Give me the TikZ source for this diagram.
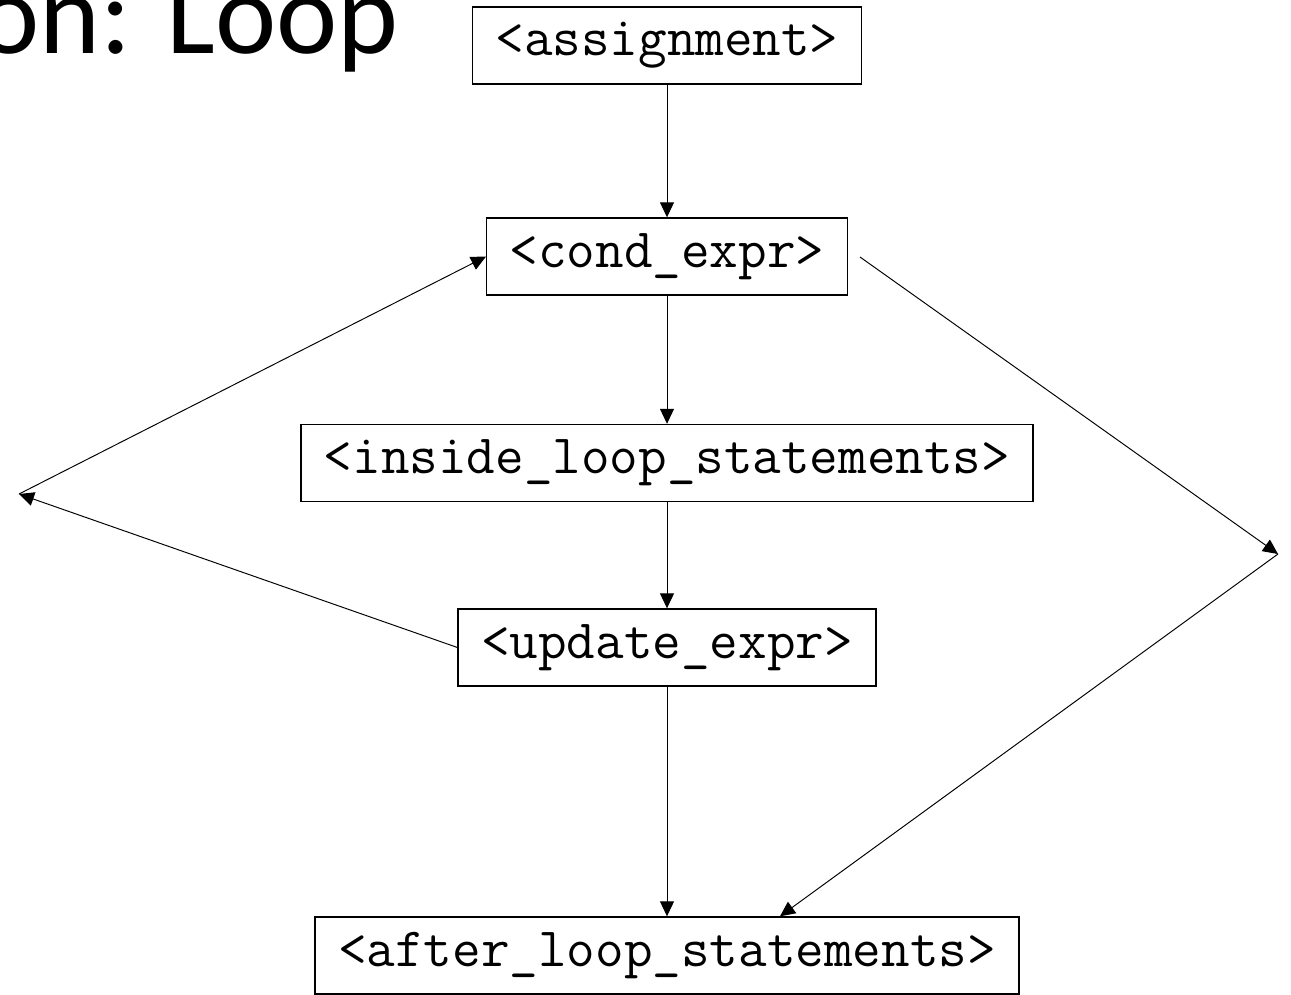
\documentclass[tikz,border=0pt]{standalone}
\usepackage{fontspec}
\usepackage{tikz}
\usetikzlibrary{arrows.meta,positioning}
\newfontfamily\titlefont{Carlito}

\begin{document}
\begin{tikzpicture}[x=0.02cm, y=-0.02cm,
	stmt/.style={draw, line width=0.8pt, font=\ttfamily\fontsize{31.6pt}{36pt}\selectfont, inner xsep=0.46cm, minimum height=1.54cm},
	flow/.style={-{Triangle[length=0.3cm,width=0.28cm]}, line width=0.55pt},]
\clip (0,0) rectangle (1291,994);

\node[anchor=base west, inner sep=0pt, font=\titlefont\fontsize{66pt}{74pt}\selectfont] (title) at (-22,53) {on: Loop};

\node[stmt] (assign) at (667,45.5) {\textless assignment\textgreater};
\node[stmt] (cond) at (667,256.5) {\textless cond\_expr\textgreater};
\node[stmt] (inside) at (667,463) {\textless inside\_loop\_statements\textgreater};
\node[stmt] (update) at (667,647.5) {\textless update\_expr\textgreater};
\node[stmt] (after) at (667,955.5) {\textless after\_loop\_statements\textgreater};

\coordinate (leftturn) at (19,494); %back edge corner
\coordinate (rightstart) at (860,257); %exit edge starts off the box
\coordinate (rightturn) at (1278,554);

\draw[flow] (assign) -- (cond);
\draw[flow] (cond) -- (inside);
\draw[flow] (inside) -- (update);
\draw[flow] (update) -- (after);
\draw[flow] (update.west) -- (leftturn);
\draw[flow] (leftturn) -- (cond.west);
\draw[flow] (rightstart) -- (rightturn);
\draw[flow] (rightturn) -- ([xshift=2.26cm]after.north);
\end{tikzpicture}
\end{document}
